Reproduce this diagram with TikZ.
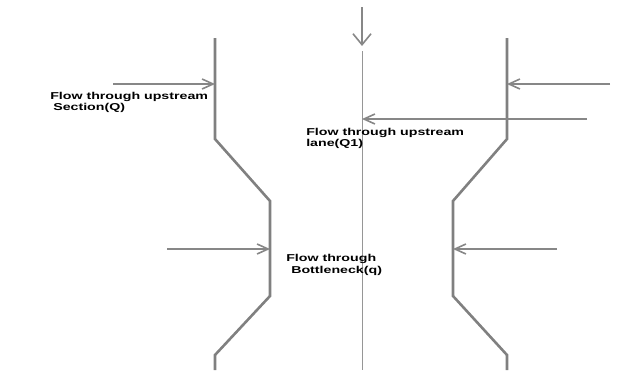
\documentclass[tikz,border=0pt]{standalone}
\usepackage{fontspec}
\setmainfont{Liberation Sans}
\usetikzlibrary{arrows.meta}
\definecolor{wallgray}{RGB}{128,128,128}
\definecolor{arrgray}{RGB}{135,135,135}
\definecolor{axisgray}{RGB}{150,150,150}
\begin{document}
\begin{tikzpicture}[x=1pt,y=-1pt,
  wall/.style={draw=wallgray,line width=2.6pt},
  flowarrow/.style={draw=arrgray,line width=1.8pt,-{Straight Barb[length=11pt,width=10pt,line width=1.6pt]}},
  downarrow/.style={draw=arrgray,line width=1.8pt,-{Straight Barb[length=11pt,width=18pt,line width=1.6pt]}},
  lbl/.style={anchor=base west,inner sep=0pt,font=\fontsize{10}{11}\selectfont\bfseries,xscale=1.42,transform shape}]
\useasboundingbox (0,0) rectangle (619,370);
% left wall
\coordinate (l1) at (215,38);
\coordinate (l2) at (215,139);
\coordinate (l3) at (270,201);
\coordinate (l4) at (270,296);
\coordinate (l5) at (215,355);
\coordinate (l6) at (215,370);
\draw[wall,line join=miter] (l1) -- (l2) -- (l3) -- (l4) -- (l5) -- (l6);
% right wall
\coordinate (r1) at (507,38);
\coordinate (r2) at (507,139);
\coordinate (r3) at (453,201);
\coordinate (r4) at (453,296);
\coordinate (r5) at (507,355);
\coordinate (r6) at (507,370);
\draw[wall,line join=miter] (r1) -- (r2) -- (r3) -- (r4) -- (r5) -- (r6);
% center axis
\coordinate (c0) at (362,7);
\coordinate (c1) at (362,46);
\coordinate (c2) at (362,51);
\coordinate (c3) at (362,370);
\draw[axisgray,line width=0.9pt] (c2) -- (c3);
\draw[downarrow] (c0) -- (c1);
% arrows
\coordinate (a1s) at (113,84);
\coordinate (a1e) at (215,84);
\draw[flowarrow] (a1s) -- (a1e);
\coordinate (a2s) at (610,84);
\coordinate (a2e) at (507,84);
\draw[flowarrow] (a2s) -- (a2e);
\coordinate (a3s) at (587,119);
\coordinate (a3e) at (362,119);
\draw[flowarrow] (a3s) -- (a3e);
\coordinate (a4s) at (167,249);
\coordinate (a4e) at (270,249);
\draw[flowarrow] (a4s) -- (a4e);
\coordinate (a5s) at (557,249);
\coordinate (a5e) at (453,249);
\draw[flowarrow] (a5s) -- (a5e);
% labels
\node[lbl] (t1a) at (50,99) {Flow through upstream};
\node[lbl] (t1b) at (53,110) {Section(Q)};
\node[lbl] (t2a) at (306,135) {Flow through upstream};
\node[lbl] (t2b) at (306,146.5) {lane(Q1)};
\node[lbl] (t3a) at (286,261) {Flow through};
\node[lbl] (t3b) at (291,273) {Bottleneck(q)};
\end{tikzpicture}
\end{document}
